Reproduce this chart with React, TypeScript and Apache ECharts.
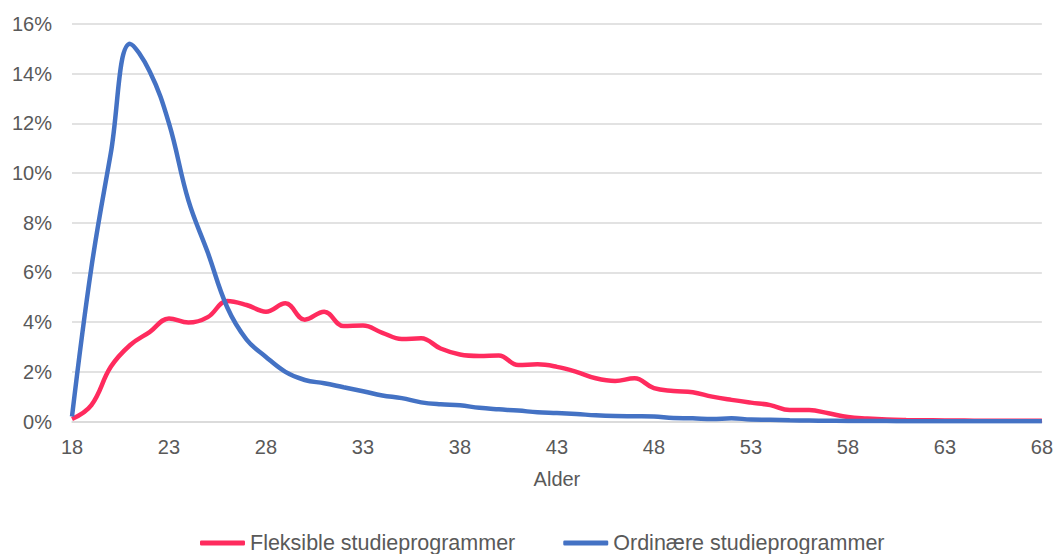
import React, { useEffect, useRef } from "react";
import * as echarts from "echarts";

const ages: string[] = [];
for (let a = 18; a <= 68; a++) ages.push(String(a));

const fleksible = [
  0.1, 0.66, 2.2, 3.08, 3.6, 4.15, 3.98, 4.2, 4.85, 4.69, 4.42, 4.76, 4.1, 4.42, 3.84, 3.86, 3.57, 3.32, 3.35, 2.94,
  2.7, 2.64, 2.66, 2.27, 2.3, 2.2, 2.0, 1.74, 1.63, 1.74, 1.34, 1.23, 1.18, 1.0, 0.87, 0.76, 0.66, 0.46, 0.46, 0.33,
  0.18, 0.12, 0.08, 0.06, 0.05, 0.04, 0.04, 0.03, 0.03, 0.03, 0.03,
];

const ordinaere = [
  0.2, 6.2, 10.8, 15.2, 14.1, 12.0, 8.9, 6.8, 4.6, 3.3, 2.6, 2.0, 1.67, 1.54, 1.38, 1.22, 1.05, 0.94, 0.77, 0.69,
  0.65, 0.55, 0.49, 0.44, 0.37, 0.34, 0.3, 0.25, 0.22, 0.21, 0.2, 0.14, 0.13, 0.1, 0.13, 0.08, 0.07, 0.05, 0.04, 0.03,
  0.02, 0.02, 0.02, 0.01, 0.01, 0.01, 0.01, 0.01, 0.01, 0.01, 0.01,
];

const seriesNames = ["Fleksible studieprogrammer", "Ordinære studieprogrammer"];
const colors = ["#FF2B5E", "#4472C4"];

export default function App() {
  const ref = useRef<HTMLDivElement>(null);
  useEffect(() => {
    if (!ref.current) return;
    const chart = echarts.init(ref.current, null, { renderer: "svg" });
    const font = "'Liberation Sans', Arial, sans-serif";
    chart.setOption({
      animation: false,
      textStyle: { fontFamily: font },
      grid: { left: 72, right: 14, top: 24, bottom: 132.5 },
      legend: {
        left: 200,
        top: 532,
        padding: 0,
        itemWidth: 45,
        itemHeight: 5,
        itemGap: 48,
        icon: "roundRect",
        textStyle: { fontSize: 21.5, lineHeight: 21, color: "#595959", fontFamily: font },
        data: seriesNames,
      },
      xAxis: {
        type: "category",
        data: ages,
        boundaryGap: false,
        name: "Alder",
        nameLocation: "middle",
        nameGap: 47,
        nameTextStyle: { fontSize: 20, color: "#595959" },
        axisLine: { lineStyle: { color: "#D9D9D9", width: 1.5 } },
        axisTick: { show: false },
        axisLabel: { interval: 4, fontSize: 20, color: "#595959", margin: 15 },
        splitLine: { show: false },
      },
      yAxis: {
        type: "value",
        min: 0,
        max: 16,
        interval: 2,
        axisLine: { show: false },
        axisTick: { show: false },
        axisLabel: { formatter: "{value}%", fontSize: 20, color: "#595959", margin: 20 },
        splitLine: { lineStyle: { color: "#D9D9D9", width: 1.5 } },
      },
      series: [
        {
          name: seriesNames[0],
          type: "line",
          data: fleksible,
          smooth: 0.4,
          showSymbol: false,
          lineStyle: { color: colors[0], width: 4.5 },
          itemStyle: { color: colors[0] },
        },
        {
          name: seriesNames[1],
          type: "line",
          data: ordinaere,
          smooth: 0.4,
          showSymbol: false,
          lineStyle: { color: colors[1], width: 4.5 },
          itemStyle: { color: colors[1] },
        },
      ],
    });
    return () => chart.dispose();
  }, []);
  return <div ref={ref} style={{ width: 1056, height: 554, position: "absolute", left: 0, top: 0 }} />;
}
